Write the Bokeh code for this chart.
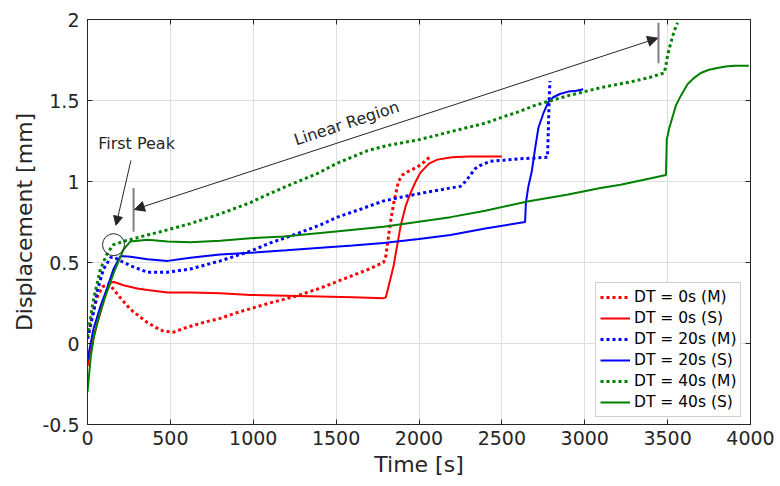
from bokeh.plotting import figure
from bokeh.models import (LinearAxis, FixedTicker, CustomJSTickFormatter, Range1d,
                          Arrow, NormalHead, Label)
from bokeh.embed import file_html
from bokeh.resources import INLINE

FONT = "DejaVu Sans"
TXT = "#262626"

# ---------------- data ----------------
x_ticks = [0, 500, 1000, 1500, 2000, 2500, 3000, 3500, 4000]
y_ticks = [-0.5, 0, 0.5, 1, 1.5, 2]

labels = ["DT = 0s (M)", "DT = 0s (S)", "DT = 20s (M)", "DT = 20s (S)",
          "DT = 40s (M)", "DT = 40s (S)"]

t_0m = [0, 30, 60, 90, 130, 160, 200, 260, 310, 360, 410, 460, 520, 600, 700, 800, 900,
        1000, 1100, 1250, 1400, 1500, 1600, 1700, 1786, 1800, 1828, 1850, 1876, 1900,
        1930, 1960, 1991, 2030, 2069]
y_0m = [0.03, 0.18, 0.29, 0.35, 0.37, 0.33, 0.28, 0.21, 0.17, 0.13, 0.10, 0.075, 0.07,
        0.10, 0.13, 0.155, 0.19, 0.22, 0.25, 0.29, 0.34, 0.38, 0.42, 0.46, 0.50, 0.54,
        0.75, 0.88, 1.00, 1.04, 1.06, 1.075, 1.09, 1.12, 1.155]

t_0s = [0, 18, 40, 60, 78, 100, 120, 139, 160, 217, 300, 362, 483, 621, 800, 983, 1200,
        1400, 1600, 1786, 1800, 1846, 1888, 1920, 1949, 1980, 2009, 2060, 2111, 2200,
        2300, 2500]
y_0s = [-0.14, -0.06, 0.05, 0.13, 0.19, 0.27, 0.33, 0.375, 0.38, 0.36, 0.34, 0.33, 0.315,
        0.315, 0.31, 0.30, 0.295, 0.29, 0.285, 0.28, 0.285, 0.475, 0.72, 0.85, 0.93,
        1.00, 1.055, 1.11, 1.135, 1.15, 1.155, 1.155]

t_20m = [0, 36, 60, 97, 139, 160, 181, 259, 362, 483, 621, 800, 983, 1100, 1243, 1400,
         1508, 1650, 1786, 1900, 2027, 2190, 2250, 2280, 2310, 2340, 2371, 2431, 2500,
         2600, 2700, 2775, 2780, 2785, 2790]
y_20m = [0.03, 0.19, 0.33, 0.46, 0.53, 0.535, 0.52, 0.48, 0.44, 0.44, 0.46, 0.51, 0.57,
         0.62, 0.67, 0.73, 0.78, 0.83, 0.88, 0.905, 0.93, 0.96, 0.97, 1.00, 1.04, 1.08,
         1.10, 1.125, 1.13, 1.14, 1.145, 1.15, 1.30, 1.50, 1.62]

t_20s = [0, 36, 78, 121, 157, 199, 260, 362, 483, 621, 800, 983, 1200, 1388, 1600, 1786,
         2000, 2190, 2400, 2640, 2645, 2660, 2680, 2700, 2720, 2750, 2780, 2810, 2850,
         2900, 2950, 2990]
y_20s = [-0.10, 0.09, 0.23, 0.35, 0.46, 0.54, 0.535, 0.52, 0.51, 0.53, 0.55, 0.56, 0.575,
         0.59, 0.605, 0.62, 0.645, 0.67, 0.71, 0.75, 0.87, 0.97, 1.06, 1.20, 1.33, 1.42,
         1.49, 1.52, 1.54, 1.555, 1.56, 1.57]

t_40m = [0, 36, 78, 121, 157, 217, 362, 440, 621, 800, 983, 1044, 1200, 1388, 1500, 1689,
         1800, 2009, 2200, 2400, 2510, 2600, 2700, 2800, 2900, 3000, 3100, 3200, 3300,
         3400, 3480, 3490, 3500, 3520, 3540, 3560]
y_40m = [0.04, 0.27, 0.46, 0.56, 0.61, 0.63, 0.67, 0.69, 0.74, 0.80, 0.87, 0.90, 0.97,
         1.05, 1.11, 1.19, 1.22, 1.26, 1.31, 1.36, 1.40, 1.43, 1.47, 1.50, 1.53, 1.555,
         1.58, 1.60, 1.62, 1.645, 1.67, 1.72, 1.78, 1.86, 1.93, 1.98]

t_40s = [0, 20, 40, 78, 121, 160, 217, 259, 362, 483, 621, 800, 983, 1183, 1484, 1786,
         2190, 2400, 2654, 2900, 3095, 3216, 3400, 3490, 3495, 3510, 3530, 3550, 3580,
         3620, 3660, 3700, 3750, 3800, 3850, 3900, 3990]
y_40s = [-0.30, -0.08, 0.05, 0.20, 0.33, 0.44, 0.58, 0.63, 0.64, 0.63, 0.625, 0.635, 0.65,
         0.66, 0.69, 0.72, 0.78, 0.82, 0.876, 0.92, 0.96, 0.98, 1.02, 1.04, 1.26, 1.33,
         1.40, 1.47, 1.53, 1.60, 1.64, 1.67, 1.69, 1.70, 1.71, 1.715, 1.715]

series = [
    (t_0m, y_0m, "#ff0000", True),
    (t_0s, y_0s, "#ff0000", False),
    (t_20m, y_20m, "#0000ff", True),
    (t_20s, y_20s, "#0000ff", False),
    (t_40m, y_40m, "#008000", True),
    (t_40s, y_40s, "#008000", False),
]

# annotation anchors (data units)
peak_center = (157, 0.61)
peak_text = (296, 1.235)
peak_arrow = (262, 1.13, 172, 0.73)
left_bar = (278, 0.69, 0.96)
right_bar = (3445, 1.73, 1.98)
lin_arrow = (283, 0.827, 3440, 1.885)
lin_text = (1563, 1.36)

# ---------------- figure ----------------
p = figure(width=780, height=486, output_backend="svg", toolbar_location=None,
           x_range=Range1d(0, 4000), y_range=Range1d(-0.5, 2),
           min_border_left=87, min_border_right=30, min_border_top=19,
           min_border_bottom=62, x_axis_label="Time [s]",
           y_axis_label="Displacement [mm]")
p.background_fill_color = "white"
p.border_fill_color = "white"
p.outline_line_color = TXT

fmt = CustomJSTickFormatter(code="return tick.toString();")
blank = CustomJSTickFormatter(code="return '';")

for ax, ticks in ((p.xaxis[0], x_ticks), (p.yaxis[0], y_ticks)):
    ax.ticker = FixedTicker(ticks=ticks)
    ax.formatter = fmt
    ax.major_tick_in = 5
    ax.major_tick_out = 0
    ax.minor_tick_line_color = None
    ax.axis_line_color = TXT
    ax.major_tick_line_color = TXT
    ax.major_label_text_font = FONT
    ax.major_label_text_font_size = "19px"
    ax.major_label_text_color = TXT
    ax.axis_label_text_font = FONT
    ax.axis_label_text_font_size = "22px"
    ax.axis_label_text_font_style = "normal"
    ax.axis_label_text_color = TXT

p.xaxis[0].major_label_standoff = 6
p.xaxis[0].axis_label_standoff = 4
p.yaxis[0].major_label_standoff = 8
p.yaxis[0].axis_label_standoff = 2

for loc, ticks in (("above", x_ticks), ("right", y_ticks)):
    ax = LinearAxis(ticker=FixedTicker(ticks=ticks), formatter=blank,
                    major_tick_in=5, major_tick_out=0, minor_tick_line_color=None,
                    axis_line_color=TXT, major_tick_line_color=TXT,
                    major_label_text_font_size="0px", major_label_standoff=0)
    p.add_layout(ax, loc)

p.xgrid.ticker = FixedTicker(ticks=x_ticks)
p.ygrid.ticker = FixedTicker(ticks=y_ticks)
p.grid.grid_line_color = "#dfdfdf"
p.grid.grid_line_width = 1

for (tx, ty, col, dotted), lab in zip(series, labels):
    if dotted:
        p.line(tx, ty, line_color=col, line_width=3, line_dash="3 3",
               legend_label=lab)
    else:
        p.line(tx, ty, line_color=col, line_width=2, legend_label=lab)

# annotations
p.scatter([peak_center[0]], [peak_center[1]], marker="circle", size=22,
          fill_color=None, line_color=TXT, line_width=1)
p.add_layout(Label(x=peak_text[0], y=peak_text[1], text="First Peak",
                   text_font=FONT, text_font_size="16px", text_color=TXT,
                   text_align="center", text_baseline="middle"))
p.add_layout(Arrow(end=NormalHead(size=9, fill_color=TXT, line_color=TXT),
                   x_start=peak_arrow[0], y_start=peak_arrow[1],
                   x_end=peak_arrow[2], y_end=peak_arrow[3],
                   line_color=TXT, line_width=1))
p.segment(x0=[left_bar[0], right_bar[0]], y0=[left_bar[1], right_bar[1]],
          x1=[left_bar[0], right_bar[0]], y1=[left_bar[2], right_bar[2]],
          line_color="#7f7f7f", line_width=2)
p.add_layout(Arrow(start=NormalHead(size=10, fill_color=TXT, line_color=TXT),
                   end=NormalHead(size=10, fill_color=TXT, line_color=TXT),
                   x_start=lin_arrow[0], y_start=lin_arrow[1],
                   x_end=lin_arrow[2], y_end=lin_arrow[3],
                   line_color=TXT, line_width=1))
p.add_layout(Label(x=lin_text[0], y=lin_text[1], text="Linear Region",
                   text_font=FONT, text_font_size="16px", text_color=TXT,
                   text_align="center", text_baseline="middle", angle=0.319))

lg = p.legend[0]
lg.location = (508, 7)
lg.label_text_font = FONT
lg.label_text_font_size = "15.5px"
lg.label_text_color = "black"
lg.glyph_width = 30
lg.glyph_height = 20
lg.label_height = 20
lg.spacing = 1
lg.padding = 4
lg.margin = 0
lg.label_standoff = 4
lg.border_line_color = "#a0a0a0"
lg.border_line_width = 1
lg.background_fill_alpha = 1

open("out.html", "w").write(file_html(p, INLINE))
